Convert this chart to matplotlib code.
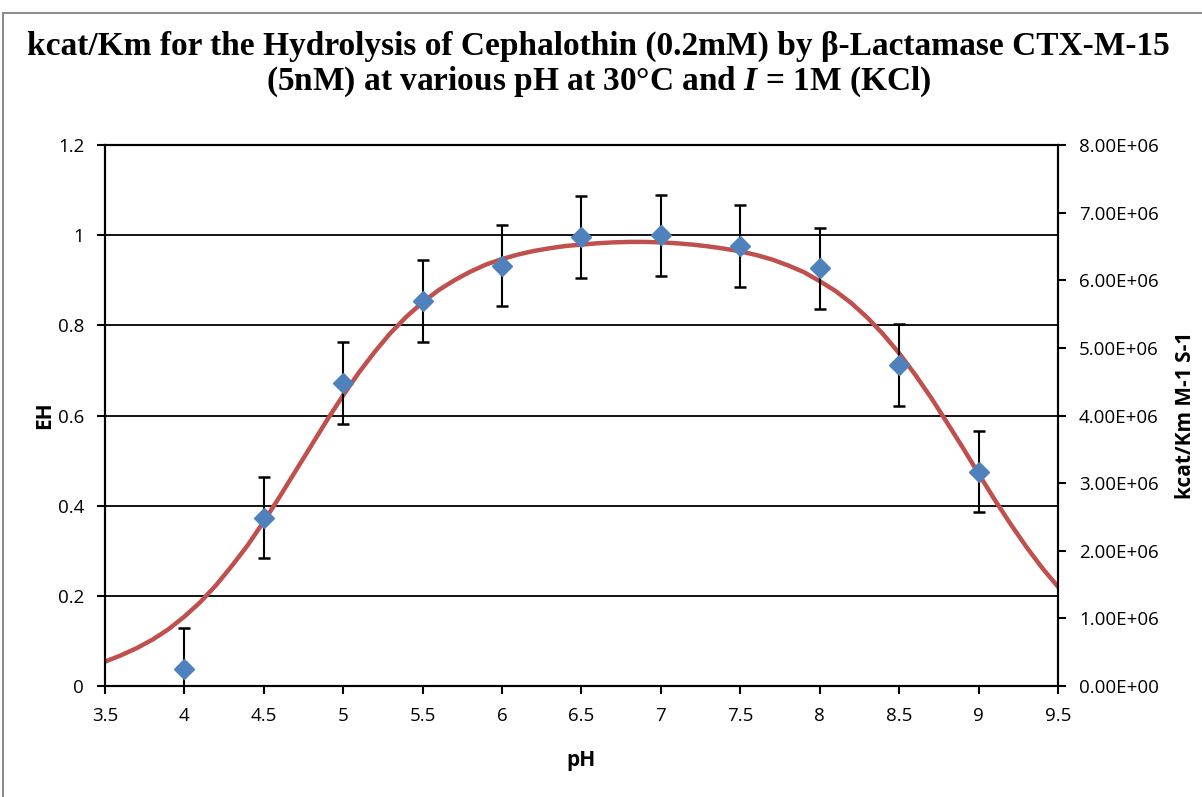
import matplotlib.pyplot as plt
from matplotlib.patches import Rectangle
from matplotlib.ticker import FuncFormatter

# measured points
ph = [4.0, 4.5, 5.0, 5.5, 6.0, 6.5, 7.0, 7.5, 8.0, 8.5, 9.0]
eh = [0.038, 0.373, 0.672, 0.854, 0.932, 0.996, 1.000, 0.976, 0.927, 0.712, 0.475]
err = [0.09] * len(ph)

# fitted curve
fit_ph = [3.5, 3.6, 3.7, 3.8, 3.9, 4.0, 4.1, 4.2, 4.3, 4.4,
          4.5, 4.6, 4.7, 4.8, 4.9, 5.0, 5.1, 5.2, 5.3, 5.4,
          5.5, 5.6, 5.7, 5.8, 5.9, 6.0, 6.1, 6.2, 6.3, 6.4,
          6.5, 6.6, 6.7, 6.8, 6.9, 7.0, 7.1, 7.2, 7.3, 7.4,
          7.5, 7.6, 7.7, 7.8, 7.9, 8.0, 8.1, 8.2, 8.3, 8.4,
          8.5, 8.6, 8.7, 8.8, 8.9, 9.0, 9.1, 9.2, 9.3, 9.4, 9.5]
fit_eh = [0.054, 0.068, 0.084, 0.103, 0.126, 0.154, 0.186, 0.224, 0.267, 0.313,
          0.365, 0.420, 0.477, 0.534, 0.591, 0.645, 0.696, 0.742, 0.784, 0.820,
          0.851, 0.878, 0.900, 0.919, 0.935, 0.947, 0.957, 0.965, 0.971, 0.976,
          0.979, 0.982, 0.984, 0.985, 0.985, 0.984, 0.982, 0.979, 0.975, 0.970,
          0.964, 0.956, 0.946, 0.933, 0.918, 0.898, 0.876, 0.849, 0.817, 0.780,
          0.738, 0.691, 0.640, 0.585, 0.529, 0.471, 0.414, 0.360, 0.309, 0.262, 0.220]

x_ticks = [3.5, 4, 4.5, 5, 5.5, 6, 6.5, 7, 7.5, 8, 8.5, 9, 9.5]
y_ticks = [0, 0.2, 0.4, 0.6, 0.8, 1.0, 1.2]
y2_ticks = [0, 1e6, 2e6, 3e6, 4e6, 5e6, 6e6, 7e6, 8e6]

tick_font = 'Open Sans'
plt.rcParams['mathtext.fontset'] = 'custom'
plt.rcParams['mathtext.rm'] = 'Liberation Serif:bold'
plt.rcParams['mathtext.it'] = 'Liberation Serif:italic:bold'

fig = plt.figure(figsize=(12.02, 7.97), dpi=100)
ax = fig.add_axes([105 / 1202, 1 - 686 / 797, (1058 - 105) / 1202, (686 - 145) / 797])

# outer chart frame
fig.patches.append(Rectangle((3 / 1202, -0.1), 1.2, 1 - 13 / 797 + 0.1,
                             transform=fig.transFigure, fill=False,
                             edgecolor='#8c8c8c', linewidth=1.5))

for yv in y_ticks[1:-1]:
    ax.axhline(yv, color='black', linewidth=1.3, zorder=1)

ax.plot(fit_ph, fit_eh, color='#C0504D', linewidth=3.2, zorder=2)
ax.errorbar(ph, eh, yerr=err, fmt='none', ecolor='black', elinewidth=1.5,
            capsize=4.5, capthick=1.8, zorder=3)
ax.plot(ph, eh, linestyle='none', marker='D', markersize=10.5,
        color='#4F81BD', zorder=4)

ax.set_xlim(3.5, 9.5)
ax.set_ylim(0, 1.2)
ax.set_xticks(x_ticks)
ax.set_xticklabels([f'{v:g}' for v in x_ticks])
ax.set_yticks(y_ticks)
ax.set_yticklabels([f'{v:g}' for v in y_ticks])

for sp in ax.spines.values():
    sp.set_linewidth(1.5)
ax.tick_params(direction='out', length=6, width=1.5, labelsize=13.5, pad=9)
for lab in ax.get_xticklabels() + ax.get_yticklabels():
    lab.set_fontfamily(tick_font)

ax2 = ax.twinx()
ax2.set_ylim(0, 8e6)
ax2.set_yticks(y2_ticks)
ax2.yaxis.set_major_formatter(FuncFormatter(lambda v, p: f'{v:.2E}'))
ax2.tick_params(direction='out', length=6, width=1.5, labelsize=13.5, pad=9)
for lab in ax2.get_yticklabels():
    lab.set_fontfamily(tick_font)
for sp in ax2.spines.values():
    sp.set_linewidth(1.5)

ax.set_xlabel('pH', fontsize=15, fontweight='bold', fontfamily=tick_font, labelpad=18)
ax.set_ylabel('EH', fontsize=15, fontweight='bold', fontfamily=tick_font, labelpad=2)
ax2.set_ylabel('kcat/Km M-1 S-1', fontsize=15, fontweight='bold', fontfamily=tick_font, labelpad=12)

fig.text(0.498, 1 - 46 / 797,
         'kcat/Km for the Hydrolysis of Cephalothin (0.2mM) by β-Lactamase CTX-M-15',
         ha='center', va='center', fontsize=24, fontweight='bold',
         fontfamily='Liberation Serif')
fig.text(0.498, 1 - 82 / 797,
         r'(5nM) at various pH at 30°C and $I$ = 1M (KCl)',
         ha='center', va='center', fontsize=24, fontweight='bold',
         fontfamily='Liberation Serif')

fig.savefig('out.png', dpi=100)
